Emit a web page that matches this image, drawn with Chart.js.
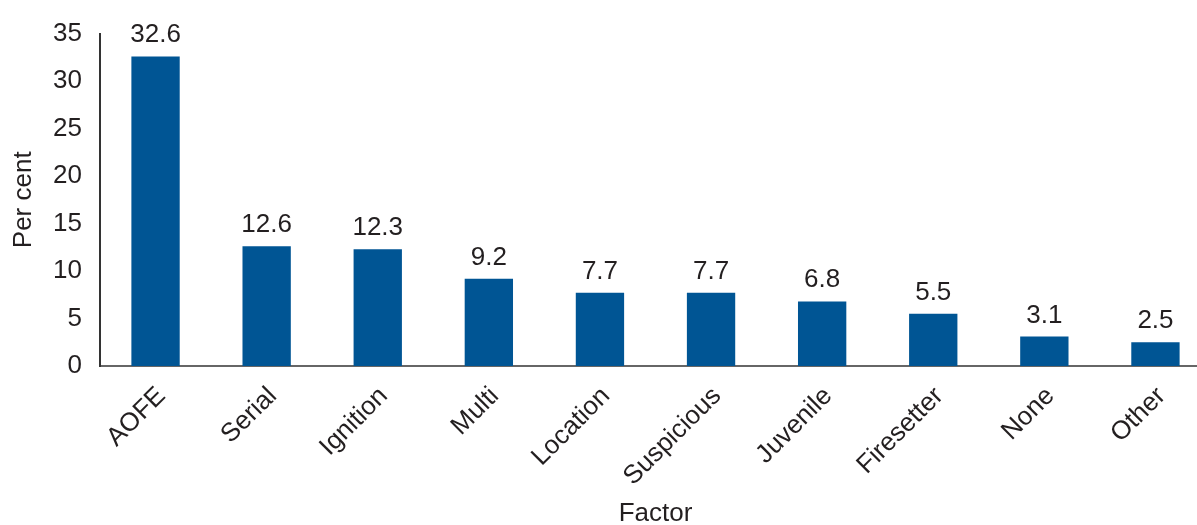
<!DOCTYPE html>
<html>
<head>
<meta charset="utf-8">
<script src="https://cdn.jsdelivr.net/npm/chart.js@4/dist/chart.umd.min.js"></script>
<style>
html,body{margin:0;padding:0;background:#fff;overflow:hidden;width:1197px;height:525px;}
#wrap{position:relative;width:1211px;height:525px;}
</style>
</head>
<body>
<div id="wrap"><canvas id="c"></canvas></div>
<script>
const categories = ['AOFE','Serial','Ignition','Multi','Location','Suspicious','Juvenile','Firesetter','None','Other'];
const values = [32.6, 12.6, 12.3, 9.2, 7.7, 7.7, 6.8, 5.5, 3.1, 2.5];
const yTicks = [0,5,10,15,20,25,30,35];

const FONT = "'Liberation Sans', Arial, sans-serif";
const TXT = '#231f20';
const FS = 26;

const valueLabels = {
  id: 'valueLabels',
  afterDatasetsDraw(chart) {
    const ctx = chart.ctx;
    const meta = chart.getDatasetMeta(0);
    ctx.save();
    ctx.font = FS + 'px ' + FONT;
    ctx.fillStyle = TXT;
    ctx.textAlign = 'center';
    ctx.textBaseline = 'alphabetic';
    meta.data.forEach((bar, i) => {
      ctx.fillText(values[i].toFixed(1), bar.x, bar.y - 14);
    });
    ctx.restore();
  }
};

new Chart(document.getElementById('c'), {
  type: 'bar',
  data: {
    labels: categories,
    datasets: [{
      data: values,
      backgroundColor: '#005594',
      categoryPercentage: 1.0,
      barPercentage: 0.435
    }]
  },
  options: {
    responsive: true,
    maintainAspectRatio: false,
    animation: false,
    layout: { padding: { top: 28, right: 0, left: 0, bottom: 0 } },
    plugins: { legend: { display: false }, tooltip: { enabled: false } },
    scales: {
      x: {
        afterFit: (axis) => { axis.height = 159; },
        grid: { display: false, drawTicks: false },
        border: { display: true, color: '#666', width: 2 },
        ticks: {
          color: TXT, font: { family: FONT, size: FS },
          maxRotation: 45, minRotation: 45, padding: 15, labelOffset: 6, autoSkip: false
        },
        title: { display: true, text: 'Factor', color: TXT, font: { family: FONT, size: FS }, padding: { top: 4, bottom: -4 } }
      },
      y: {
        min: 0, max: 35,
        afterFit: (axis) => { axis.width = 100; },
        afterBuildTicks: (axis) => { axis.ticks = yTicks.map(v => ({ value: v })); },
        grid: { display: false, drawTicks: false },
        border: { display: true, color: '#333', width: 2 },
        ticks: { color: TXT, font: { family: FONT, size: FS }, padding: 18 },
        title: { display: true, text: 'Per cent', color: TXT, font: { family: FONT, size: FS }, padding: { top: 8, bottom: 0 } }
      }
    }
  },
  plugins: [valueLabels]
});
</script>
</body>
</html>
